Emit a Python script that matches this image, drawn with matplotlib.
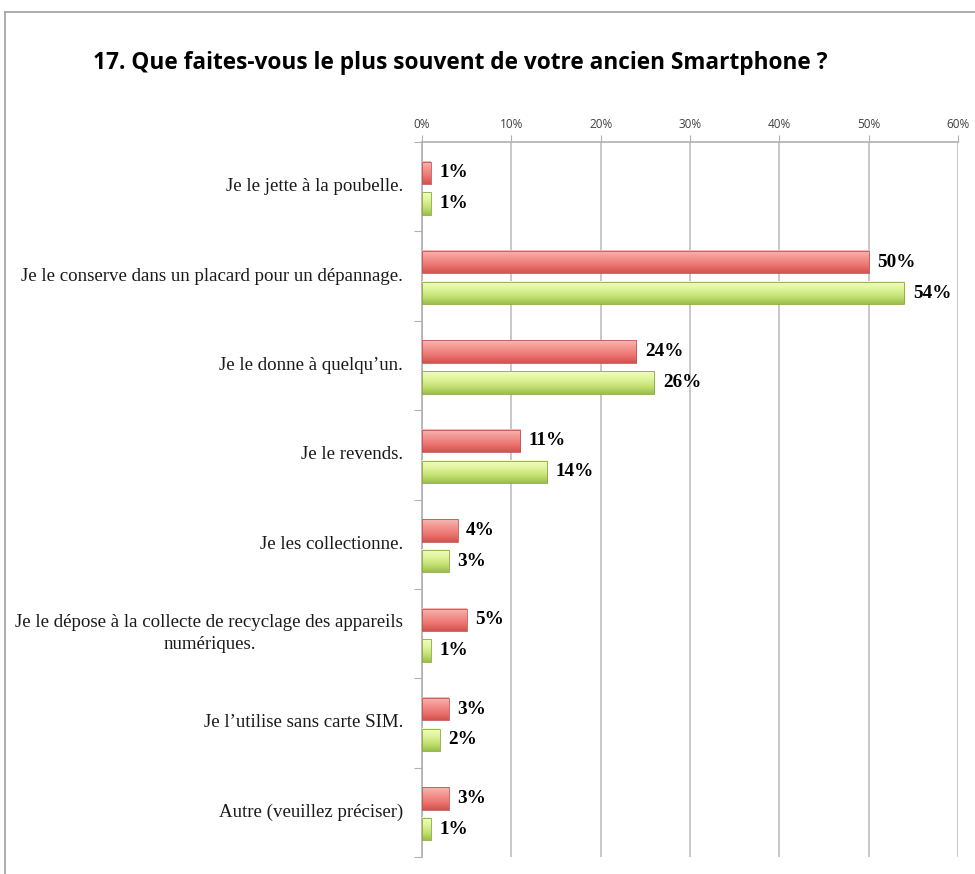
import matplotlib
matplotlib.use("Agg")
import matplotlib.pyplot as plt
import numpy as np
from matplotlib.colors import LinearSegmentedColormap
from matplotlib.lines import Line2D

title = "17. Que faites-vous le plus souvent de votre ancien Smartphone ?"
categories = [
    "Je le jette à la poubelle.",
    "Je le conserve dans un placard pour un dépannage.",
    "Je le donne à quelqu\u2019un.",
    "Je le revends.",
    "Je les collectionne.",
    "Je le dépose à la collecte de recyclage des appareils\nnumériques.",
    "Je l\u2019utilise sans carte SIM.",
    "Autre (veuillez préciser)",
]
red_values = [1, 50, 24, 11, 4, 5, 3, 3]
green_values = [1, 54, 26, 14, 3, 1, 2, 1]
x_ticks = [0, 10, 20, 30, 40, 50, 60]
x_tick_labels = ["0%", "10%", "20%", "30%", "40%", "50%", "60%"]

fig = plt.figure(figsize=(9.75, 8.74), dpi=100)
ax = fig.add_axes([422/975, 1-857/874, (958-422)/975, (857-142)/874])

n = len(categories)
ax.set_xlim(0, 60)
ax.set_ylim(n, 0)

red_cmap = LinearSegmentedColormap.from_list("r", ["#f8b8b4", "#f39490", "#ec7470", "#d2534f"])
green_cmap = LinearSegmentedColormap.from_list("g", ["#f2fcc4", "#e0f49c", "#c4e274", "#9cbf4a"])

h = 0.25
red_off = 0.22
green_off = 0.565
grad = np.linspace(0, 1, 64).reshape(-1, 1)

for i, (rv, gv) in enumerate(zip(red_values, green_values)):
    for v, off, cmap, ec in [(rv, red_off, red_cmap, "#c05551"), (gv, green_off, green_cmap, "#8aa83c")]:
        y0 = i + off
        ax.imshow(grad, cmap=cmap, aspect="auto", extent=(0, v, y0 + h, y0),
                  interpolation="bilinear", zorder=3)
        ax.add_patch(plt.Rectangle((0, y0), v, h, fill=False, ec=ec, lw=0.6, zorder=4))
        ax.text(v + 0.95, y0 + h / 2, f"{v}%", va="center", ha="left",
                fontsize=13.8, fontweight="bold", family="Liberation Serif", zorder=5)

ax.set_xticks(x_ticks)
ax.set_xticklabels(x_tick_labels)
ax.xaxis.tick_top()
ax.tick_params(axis="x", length=5, color="#b0b0b0", labelsize=8.5, labelcolor="#404040", pad=3)
for lab in ax.get_xticklabels():
    lab.set_family("Open Sans")
ax.grid(axis="x", color="#c4c4c4", lw=1.3, zorder=0)

ax.set_yticks(np.arange(n + 1))
ax.set_yticklabels([])
ax.tick_params(axis="y", length=6, color="#b0b0b0")
for i, c in enumerate(categories):
    ax.text(-2.1, i + 0.5, c, ha="right", va="center", multialignment="center",
            fontsize=13.6, family="Liberation Serif", color="#1a1a1a", linespacing=1.45)

for s in ["right", "bottom"]:
    ax.spines[s].set_visible(False)
ax.spines["top"].set_color("#b0b0b0")
ax.spines["left"].set_color("#b0b0b0")
ax.spines["top"].set_linewidth(1.2)
ax.spines["left"].set_linewidth(1.2)

fig.text(0.472, 1 - 63/874, title, ha="center", va="center", fontsize=16.3,
         fontweight="bold", family="Open Sans")

fig.add_artist(Line2D([5/975, 1], [1-12/874, 1-12/874], color="#a0a0a0", lw=1.2))
fig.add_artist(Line2D([5/975, 5/975], [0, 1-12/874], color="#a0a0a0", lw=1.2))

fig.savefig("out.png", dpi=100, facecolor="white")
